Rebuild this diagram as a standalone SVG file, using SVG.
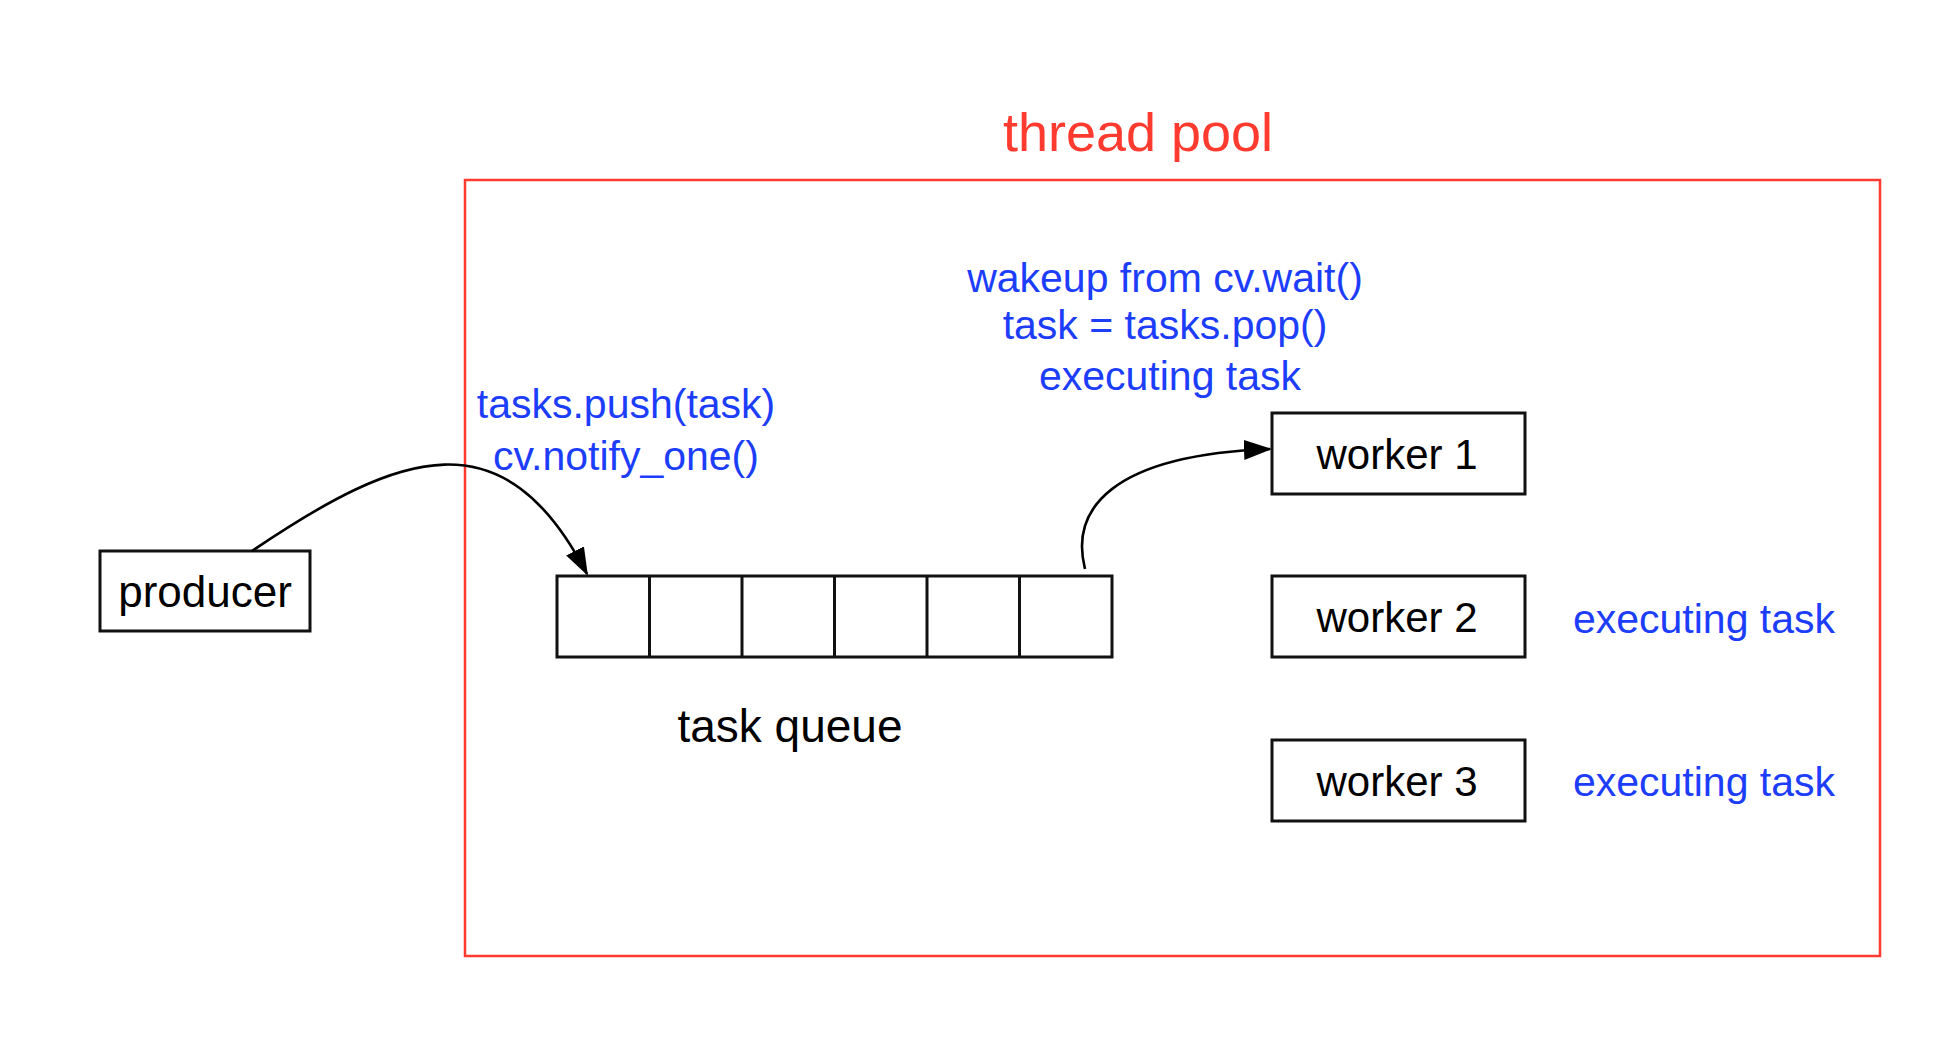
<svg xmlns="http://www.w3.org/2000/svg" width="1950" height="1040" viewBox="0 0 1950 1040">
<style>
  .box { fill: #ffffff; stroke: #111111; stroke-width: 3; }
  .lbl { font-family: "Liberation Sans", Arial, Helvetica, sans-serif; fill: #000000; text-anchor: middle; }
  .blue { font-family: "Liberation Sans", Arial, Helvetica, sans-serif; fill: #1C3DFA; font-size: 41px; text-anchor: middle; }
  .edge { fill: none; stroke: #000000; stroke-width: 2.6; }
</style>
<defs>
  <marker id="arrow" viewBox="0 0 28 20" refX="26" refY="10" markerWidth="28" markerHeight="20" markerUnits="userSpaceOnUse" orient="auto">
    <path d="M0,0 L28,10 L0,20 Z" fill="#000000"/>
  </marker>
</defs>
<rect width="1950" height="1040" fill="#ffffff"/>

<g id="thread-pool">
  <rect x="465" y="180" width="1415" height="776" fill="none" stroke="#FF3B2F" stroke-width="2.5"/>
  <text x="1138" y="151" font-family="Liberation Sans, Arial, sans-serif" font-size="54" fill="#FF3B2F" text-anchor="middle">thread pool</text>
</g>

<g id="producer">
  <rect class="box" x="100" y="551" width="210" height="80"/>
  <text class="lbl" x="205" y="607" font-size="44">producer</text>
</g>

<g id="task-queue">
  <rect class="box" x="557" y="576" width="555" height="81"/>
  <line x1="649.5" y1="576" x2="649.5" y2="657" stroke="#111" stroke-width="3"/>
  <line x1="742" y1="576" x2="742" y2="657" stroke="#111" stroke-width="3"/>
  <line x1="834.5" y1="576" x2="834.5" y2="657" stroke="#111" stroke-width="3"/>
  <line x1="927" y1="576" x2="927" y2="657" stroke="#111" stroke-width="3"/>
  <line x1="1019.5" y1="576" x2="1019.5" y2="657" stroke="#111" stroke-width="3"/>
  <text class="lbl" x="790" y="742" font-size="46">task queue</text>
</g>

<g id="worker1">
  <rect class="box" x="1272" y="413" width="253" height="81"/>
  <text class="lbl" x="1397" y="469" font-size="42">worker 1</text>
</g>
<g id="worker2">
  <rect class="box" x="1272" y="576" width="253" height="81"/>
  <text class="lbl" x="1397" y="632" font-size="42">worker 2</text>
</g>
<g id="worker3">
  <rect class="box" x="1272" y="740" width="253" height="81"/>
  <text class="lbl" x="1397" y="796" font-size="42">worker 3</text>
</g>

<g id="connectors">
  <path class="edge" d="M252,551 C401,450 504,414 587,574" marker-end="url(#arrow)"/>
  <path class="edge" d="M1085,569 C1070,510 1110,455 1270,449" marker-end="url(#arrow)"/>
</g>

<g id="labels">
  <text class="blue" x="626" y="418">tasks.push(task)</text>
  <text class="blue" x="626" y="470">cv.notify_one()</text>
  <text class="blue" x="1165" y="292">wakeup from cv.wait()</text>
  <text class="blue" x="1165" y="339">task = tasks.pop()</text>
  <text class="blue" x="1170" y="390">executing task</text>
  <text class="blue" x="1704" y="633">executing task</text>
  <text class="blue" x="1704" y="796">executing task</text>
</g>
</svg>
